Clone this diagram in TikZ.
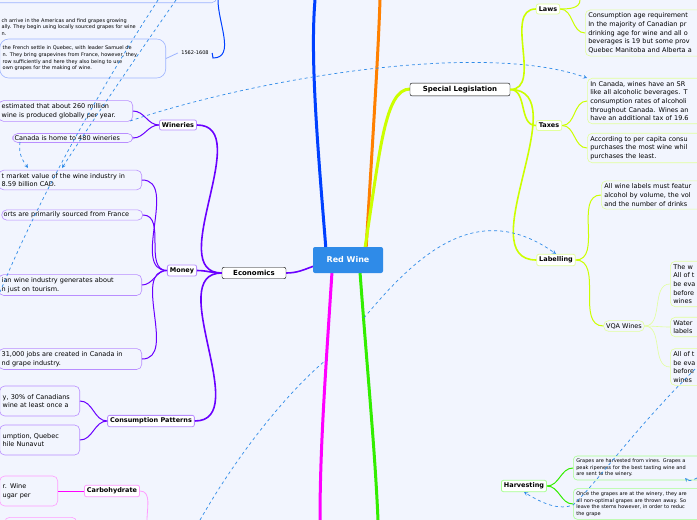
\documentclass[tikz,border=0pt]{standalone}
\usepackage{fontspec}
\setmainfont{DejaVu Sans}
\usetikzlibrary{positioning}
\definecolor{bg}{HTML}{F2F5FE}
\definecolor{eco}{HTML}{6A00FF}
\definecolor{ecol}{HTML}{B98EFF}
\definecolor{leg}{HTML}{CCFF00}
\definecolor{legl}{HTML}{E2FF9C}
\definecolor{harv}{HTML}{33EE00}
\definecolor{harvl}{HTML}{A8FF8F}
\definecolor{carb}{HTML}{FF00FF}
\definecolor{carbl}{HTML}{FF9CFF}
\definecolor{hist}{HTML}{0040FF}
\definecolor{histl}{HTML}{9DB4FF}
\definecolor{link}{HTML}{2F8BE8}
\tikzset{
  topic/.style={draw=black, fill=white, rounded corners=2pt, font=\fontsize{7}{8}\selectfont\bfseries, inner sep=3pt},
  sub/.style={draw=#1, fill=white, rounded corners=2pt, line width=0.8pt, font=\fontsize{6.5}{8}\selectfont\bfseries, inner sep=2.5pt},
  leaf/.style={draw=#1, fill=bg, rounded corners=5pt, line width=0.6pt, font=\fontsize{6.5}{8.6}\selectfont, align=left, inner sep=3pt},
  tiny/.style={draw=#1, fill=bg, rounded corners=9pt, line width=0.6pt, font=\fontsize{5}{6.6}\selectfont, align=left, inner sep=3pt},
  crosslink/.style={draw=link, dashed, line width=0.7pt, ->, >=stealth},
}
\begin{document}
\begin{tikzpicture}[x=1pt, y=-1pt]
    \useasboundingbox (0,0) rectangle (697,520);
    \clip (0,0) rectangle (697,520);
    \fill[bg] (0,0) rectangle (697,520);

    % main branches
    \draw[hist, line width=3pt] (326,250) .. controls (318,150) and (310,60) .. (315,0);
    \draw[orange, line width=3pt] (366,250) .. controls (372,150) and (378,60) .. (380,0);
    \draw[leg, line width=3pt] (365,248) .. controls (380,150) and (385,89) .. (410,89);
    \draw[harv, line width=3pt] (360,272) .. controls (368,380) and (375,450) .. (378,520);
    \draw[carb, line width=3pt] (332,272) .. controls (325,380) and (320,450) .. (320,520);
    \draw[eco, line width=1.6pt] (314,266) to[out=200, in=0] (286,273);

    \node[fill=link, text=white, font=\fontsize{8}{9}\selectfont\bfseries, minimum width=70pt, minimum height=26pt, rounded corners=2pt] (red) at (348,260) {Red Wine};
    \node[topic, minimum width=64pt] (eco) at (254,273) {Economics};
    \node[topic, minimum width=100pt] (spec) at (460,89.5) {Special Legislation};

    % economics
    \node[sub=ecol] (winer) at (178,125) {Wineries};
    \node[sub=ecol] (money) at (182,270.5) {Money};
    \node[sub=ecol] (cons) at (151,421) {Consumption Patterns};
    \foreach \c in {winer,money,cons}
        \draw[eco, line width=1.6pt] (eco.west) to[out=180, in=0] (\c.east);

    \node[leaf=ecol, anchor=east, text width=128pt] (w1) at (133,111) {estimated that about 260 million\\ wine is produced globally per year.};
    \node[leaf=ecol, anchor=east, text width=116pt, inner sep=2pt] (w2) at (133,138) {Canada is home to 480 wineries};
    \node[leaf=ecol, anchor=east, text width=137pt] (m1) at (142,180) {t market value of the wine industry in\\ 8.59 billion CAD.};
    \node[leaf=ecol, anchor=east, text width=137pt, inner sep=2pt] (m2) at (143,215) {orts are primarily sourced from France};
    \node[leaf=ecol, anchor=east, text width=137pt] (m3) at (142,285) {ian wine industry generates about\\ n just on tourism.};
    \node[leaf=ecol, anchor=east, text width=137pt] (m4) at (142,359) {31,000 jobs are created in Canada in\\ nd grape industry.};
    \node[leaf=ecol, anchor=east, text width=74pt, minimum height=30pt] (c1) at (80,401) {y, 30\% of Canadians\\ wine at least once a\\ };
    \node[leaf=ecol, anchor=east, text width=74pt, minimum height=30pt] (c2) at (80,440) {umption, Quebec\\ hile Nunavut\\ };
    \foreach \p/\c in {winer/w1,winer/w2,money/m1,money/m2,money/m3,money/m4,cons/c1,cons/c2}
        \draw[eco, line width=1pt] (\p.west) to[out=180, in=0] (\c.east);

    % carbohydrate
    \node[sub=carbl] (carbo) at (112,491) {Carbohydrate};
    \node[leaf=carbl, anchor=east, text width=52pt, minimum height=30pt] (cb1) at (58,491) {r. Wine\\ ugar per\\ };
    \node[leaf=carbl, anchor=north east, text width=66pt, minimum height=10pt] (cb2) at (77,517) {};
    \draw[carb, line width=1pt] (carbo.west) -- (cb1.east);
    \draw[carbl, line width=0.8pt] (carbo.east) to[out=0, in=90] (147,520);

    % history
    \node[leaf=histl, anchor=south east, text width=220pt, minimum height=10pt] (h0) at (217,3) {};
    \node[font=\fontsize{5}{6.6}\selectfont, align=left, anchor=west] (h1) at (-2,27) {ch arrive in the Americas and find grapes growing\\ ally. They begin using locally sourced grapes for wine\\ n.};
    \node[tiny=histl, anchor=east, text width=160pt, minimum height=39pt] (h2) at (166,58.5) {the French settle in Quebec, with leader Samuel de\\ n. They bring grapevines from France, however, they\\ row sufficiently and here they also being to use\\ own grapes for the making of wine.};
    \node[font=\fontsize{5}{6}\selectfont] (y2) at (195,53) {1562-1608};
    \draw[histl, line width=0.8pt] (h2.east) -- (y2.west);
    \draw[hist, line width=1pt] (y2.east) -- (213,58) to[out=0, in=270] (218,0);

    % special legislation
    \node[sub=legl] (laws) at (548,9) {Laws};
    \node[sub=legl] (taxes) at (549,125.5) {Taxes};
    \node[sub=legl] (label) at (556,260) {Labelling};
    \foreach \c in {laws,taxes,label}
        \draw[leg, line width=1.6pt] (spec.east) to[out=0, in=180] (\c.west);
    \node[leaf=legl, anchor=west, text width=120pt] (l1) at (585,33) {Consumption age requirement\\ In the majority of Canadian pr\\ drinking age for wine and all o\\ beverages is 19 but some prov\\ Quebec Manitoba and Alberta a};
    \node[leaf=legl, anchor=west, text width=120pt] (t1) at (587,101) {In Canada, wines have an SR\\ like all alcoholic beverages. T\\ consumption rates of alcoholi\\ throughout Canada. Wines an\\ have an additional tax of 19.6};
    \node[leaf=legl, anchor=west, text width=120pt] (t2) at (587,148) {According to per capita consu\\ purchases the most wine whil\\ purchases the least.};
    \node[leaf=legl, anchor=west, text width=110pt] (lb1) at (601,195) {All wine labels must featur\\ alcohol by volume, the vol\\ and the number of drinks};
    \node[leaf=legl, font=\fontsize{6.5}{8}\selectfont, inner sep=2.5pt] (vqa) at (624,326) {VQA Wines};
    \node[leaf=legl, anchor=west, text width=40pt] (v1) at (670,284) {The w\\ All of t\\ be eva\\ before\\ wines};
    \node[leaf=legl, anchor=west, text width=40pt] (v2) at (670,327) {Water\\ labels};
    \node[leaf=legl, anchor=west, text width=40pt] (v3) at (670,367) {All of t\\ be eva\\ before\\ wines};
    \draw[leg, line width=1pt] (laws.east) to[out=0, in=270] (580,0);
    \foreach \p/\c in {laws/l1,taxes/t1,taxes/t2,label/lb1,label/vqa}
        \draw[leg, line width=1pt] (\p.east) to[out=0, in=180] (\c.west);
    \foreach \c in {v1,v2,v3}
        \draw[legl, line width=0.6pt] (vqa.east) to[out=0, in=180] (\c.west);

    % harvesting
    \node[sub=harvl] (harvest) at (524,486) {Harvesting};
    \node[tiny=harvl, rounded corners=4pt, anchor=west, text width=150pt] (hv1) at (573,468) {Grapes are harvested from vines. Grapes a\\ peak ripeness for the best tasting wine and\\ are sent to the winery.};
    \node[tiny=harvl, rounded corners=4pt, anchor=west, text width=150pt] (hv2) at (573,504) {Once the grapes are at the winery, they are\\ all non-optimal grapes are thrown away. So\\ leave the stems however, in order to reduc\\ the grape};
    \foreach \c in {hv1,hv2}
        \draw[harv, line width=1pt] (harvest.east) to[out=0, in=180] (\c.west);

    % cross links
    \coordinate (tl1) at (158,0);
    \coordinate (tl2) at (176,0);
    \coordinate (bl) at (200,520);
    \coordinate (gr) at (364,318);
    \coordinate (er) at (697,478);
    \draw[crosslink, -] (tl1) .. controls (80,120) and (30,220) .. (0,292);
    \draw[crosslink] (tl2) .. controls (120,80) and (80,140) .. (62,168);
    \draw[crosslink] (20,142) .. controls (18,155) and (24,162) .. (28,168);
    \draw[crosslink] (130,121) .. controls (250,80) and (480,40) .. (t1.north west);
    \draw[crosslink] (gr) .. controls (420,250) and (480,200) .. (label.north);
    \draw[crosslink, -] (bl) .. controls (240,450) and (290,390) .. (326,360);
    \draw[crosslink] (v3.north east) .. controls (640,420) and (600,480) .. (573,505) .. controls (560,510) and (545,505) .. (harvest.south);
    \draw[crosslink] (er) .. controls (692,481) and (688,481) .. (685,478);
\end{tikzpicture}
\end{document}
